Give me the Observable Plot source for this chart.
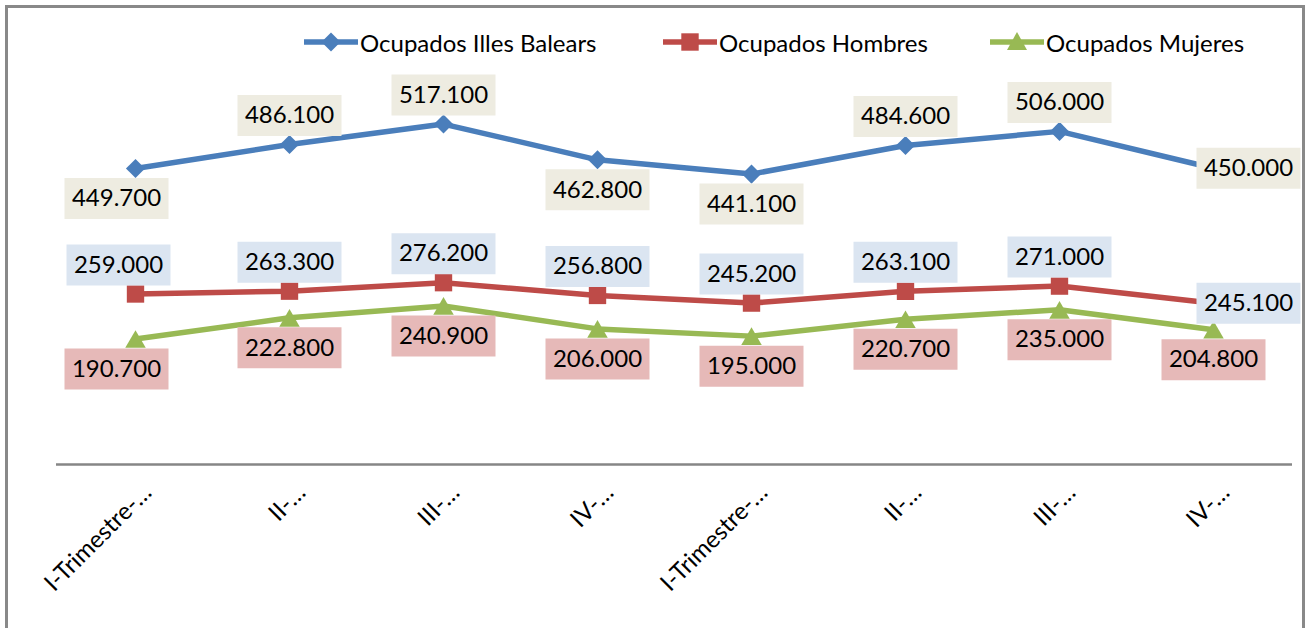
<!DOCTYPE html>
<html>
<head>
<meta charset="utf-8">
<script src="https://cdn.jsdelivr.net/npm/d3@7"></script>
<script src="https://cdn.jsdelivr.net/npm/@observablehq/plot@0.6"></script>
<style>
  html, body { margin: 0; padding: 0; background: #fff; }
  body { width: 1311px; height: 628px; overflow: hidden; position: relative; font-family: Lato, "Open Sans", sans-serif; }
  #frame { position: absolute; left: 5px; top: 5px; width: 1300px; height: 700px; border: 3px solid #898989; box-sizing: border-box; }
  #legend { position: absolute; left: 0; top: 0; width: 1311px; height: 60px; }
  .item { position: absolute; top: 28px; height: 28px; display: flex; align-items: center; font-size: 24px; color: #000; white-space: nowrap; }
  .item svg { margin-right: 1px; }
  #chart { position: absolute; left: 0; top: 60px; }
</style>
</head>
<body>
<div id="frame"></div>
<div id="legend"></div>
<div id="chart"></div>
<script>
// ---- data ----
const categories = ["I-Trimestre-…", "II-…", "III-…", "IV-…", "I-Trimestre-…", "II-…", "III-…", "IV-…"];
const seriesNames = ["Ocupados Illes Balears", "Ocupados Hombres", "Ocupados Mujeres"];
const ocupadosIllesBalears = [449700, 486100, 517100, 462800, 441100, 484600, 506000, 450000];
const ocupadosHombres      = [259000, 263300, 276200, 256800, 245200, 263100, 271000, 245100];
const ocupadosMujeres      = [190700, 222800, 240900, 206000, 195000, 220700, 235000, 204800];
// label placement (side relative to the point)
const labelSideIllesBalears = ["belowLeft", "above", "above", "below", "below", "above", "above", "right"];
const labelSideHombres      = ["aboveLeft", "above", "above", "above", "above", "above", "above", "right"];
const labelSideMujeres      = ["belowLeft", "below", "below", "below", "below", "below", "below", "below"];

// ---- styles ----
const series = [
  {name: seriesNames[0], values: ocupadosIllesBalears, sides: labelSideIllesBalears, color: "#4A7EBB", labelFill: "#EEECE1", symbol: "diamond2", r: 8.6, dy: 0},
  {name: seriesNames[1], values: ocupadosHombres, sides: labelSideHombres, color: "#BE4B48", labelFill: "#DBE5F1", symbol: "square", r: 9.8, dy: 0},
  {name: seriesNames[2], values: ocupadosMujeres, sides: labelSideMujeres, color: "#98B954", labelFill: "#E6B9B8", symbol: "triangle", r: 7.6, dy: 3}
];
const sideOffsets = {
  above: [0, -29], below: [0, 30], right: [35, 0],
  aboveLeft: [-17, -29], belowLeft: [-19, 30]
};

const locale = d3.formatLocale({decimal: ",", thousands: ".", grouping: [3], currency: ["", "€"]});
const fmt = locale.format(",d");

const boxSymbol = {draw(ctx) { ctx.moveTo(-52, -20.5); ctx.lineTo(52, -20.5); ctx.lineTo(52, 20.5); ctx.lineTo(-52, 20.5); ctx.closePath(); }};

const rows = series.flatMap(s => s.values.map((v, i) => ({series: s.name, i, value: v, side: s.sides[i]})));

const marks = [Plot.ruleY([0], {stroke: "#868686", strokeWidth: 2.5})];
for (const s of series) {
  const data = rows.filter(d => d.series === s.name);
  marks.push(Plot.line(data, {x: "i", y: "value", stroke: s.color, strokeWidth: 5.5, strokeLinejoin: "round", strokeLinecap: "round"}));
  marks.push(Plot.dot(data, {x: "i", y: "value", symbol: s.symbol, r: s.r, fill: s.color, dy: s.dy}));
}
for (const s of series) {
  for (const [side, [dx, dy]] of Object.entries(sideOffsets)) {
    const sub = rows.filter(d => d.series === s.name && d.side === side);
    if (!sub.length) continue;
    marks.push(Plot.dot(sub, {x: "i", y: "value", symbol: boxSymbol, r: 5, fill: s.labelFill, dx, dy}));
    marks.push(Plot.text(sub, {x: "i", y: "value", text: d => fmt(d.value), dx, dy, fill: "#000", fontSize: 24, lineAnchor: "middle", textAnchor: "middle"}));
  }
}

const chart = Plot.plot({
  width: 1311,
  height: 568,
  marginLeft: 56,
  marginRight: 19,
  marginTop: 9,
  marginBottom: 164,
  style: {fontFamily: "Lato, 'Open Sans', sans-serif", fontSize: "24px", color: "#000", background: "transparent", overflow: "visible"},
  x: {type: "band", domain: d3.range(categories.length), padding: 0, axis: null},
  y: {domain: [0, 600000], axis: null},
  marks: [
    ...marks,
    Plot.axisX({tickFormat: i => categories[i], tickRotate: -45, tickSize: 0, tickPadding: 24, dx: 12, label: null, fontSize: 24})
  ]
});
document.getElementById("chart").appendChild(chart);

// ---- legend ----
const legend = document.getElementById("legend");
const legendLefts = [303, 662, 989];
const symbolPaths = {
  diamond2: "M0,-9.5L9.5,0L0,9.5L-9.5,0Z",
  square: "M-8.7,-8.7H8.7V8.7H-8.7Z",
  triangle: "M0,-10L10,8H-10Z"
};
series.forEach((s, k) => {
  const item = document.createElement("div");
  item.className = "item";
  item.style.left = legendLefts[k] + "px";
  item.innerHTML = `<svg width="56" height="24" viewBox="0 0 56 24"><line x1="1" x2="55" y1="12" y2="12" stroke="${s.color}" stroke-width="5.5"/><path transform="translate(28,12)" d="${symbolPaths[s.symbol]}" fill="${s.color}"/></svg><span>${s.name}</span>`;
  legend.appendChild(item);
});
</script>
</body>
</html>
